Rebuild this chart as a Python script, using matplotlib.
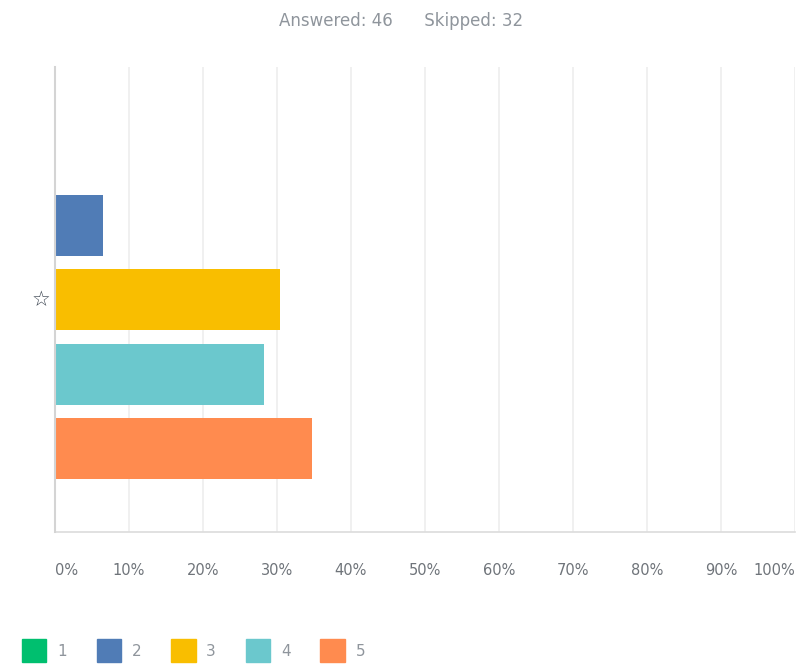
import matplotlib
matplotlib.use("Agg")
from matplotlib import pyplot as plt
from matplotlib.patches import Patch
import numpy as np

# survey question: rating distribution
answered = 46
skipped = 32
choices = ['1', '2', '3', '4', '5']
counts = [0, 3, 14, 13, 16]
colors = ['#00bf6f', '#507cb6', '#f9be00', '#6bc8cd', '#ff8b4f']
ticks = [0, 10, 20, 30, 40, 50, 60, 70, 80, 90, 100]
tick_labels = ['0%', '10%', '20%', '30%', '40%', '50%', '60%', '70%', '80%', '90%', '100%']
starred = '3'

pct = np.array(counts) / answered * 100
grey = '#8f959c'

fig = plt.figure(figsize=(8.03, 6.65), dpi=100)
ax = fig.add_axes([0.0685, 0.2, 0.9215, 0.699])

y = np.arange(len(choices))
ax.barh(y, pct, height=0.82, color=colors, zorder=3)
ax.set_ylim(len(choices) - 1 + 1.12, -1.13)
ax.set_xlim(0, 100)

ax.set_xticks(ticks)
ax.set_xticklabels(tick_labels, fontsize=10.5, color='#6f747a')
lbls = ax.get_xticklabels()
lbls[0].set_ha('left')
lbls[-1].set_ha('right')
ax.tick_params(axis='x', length=0, pad=22)
ax.set_yticks([])
ax.grid(axis='x', color='#ededed', linewidth=1.2, zorder=0)

for s in ['top', 'right']:
    ax.spines[s].set_visible(False)
ax.spines['left'].set_color('#d4d4d4')
ax.spines['left'].set_linewidth(1.5)
ax.spines['bottom'].set_color('#dcdcdc')
ax.spines['bottom'].set_linewidth(1.2)
ax.spines['left'].set_zorder(4)

# star next to the marked answer
ax.text(-1.9, choices.index(starred), '\u2606', ha='center', va='center',
        fontsize=15, color='#3f4854', fontweight='bold')

fig.text(0.5, 0.969, f'Answered: {answered}      Skipped: {skipped}',
         ha='center', va='center', fontsize=12, color=grey)

handles = [Patch(facecolor=c, edgecolor=c) for c in colors]
fig.legend(handles, choices, loc='lower left', bbox_to_anchor=(22 / 803, 3 / 665),
           ncol=5, frameon=False, fontsize=11, labelcolor=grey,
           borderpad=0, borderaxespad=0,
           handlelength=1.6, handleheight=1.9, handletextpad=0.7,
           columnspacing=1.95)

fig.savefig('out.png', dpi=100)
